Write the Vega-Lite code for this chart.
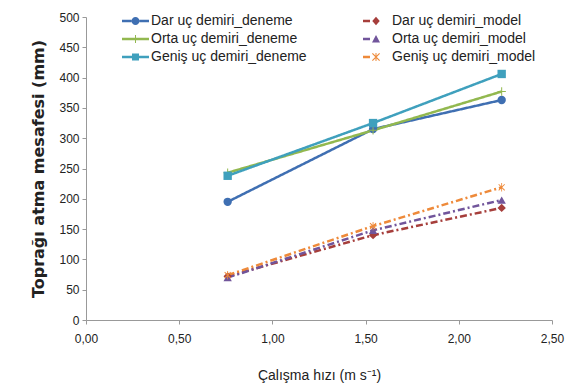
{
  "$schema": "https://vega.github.io/schema/vega-lite/v6.json",
  "width": 466,
  "height": 303,
  "autosize": "none",
  "padding": {"left": 86, "top": 17, "right": 26, "bottom": 66},
  "background": "white",
  "config": {
    "view": {"stroke": null},
    "font": "Liberation Sans Narrow, Liberation Sans, sans-serif",
    "locale": {"number": {"decimal": ",", "thousands": ".", "grouping": [3], "currency": ["", ""]}}
  },
  "data": {
    "values": [
      {"x": 0.76, "y": 195, "series": "Dar uç demiri_deneme"},
      {"x": 1.54, "y": 315, "series": "Dar uç demiri_deneme"},
      {"x": 2.23, "y": 363, "series": "Dar uç demiri_deneme"},
      {"x": 0.76, "y": 243, "series": "Orta uç demiri_deneme"},
      {"x": 1.54, "y": 313, "series": "Orta uç demiri_deneme"},
      {"x": 2.23, "y": 377, "series": "Orta uç demiri_deneme"},
      {"x": 0.76, "y": 238, "series": "Geniş uç demiri_deneme"},
      {"x": 1.54, "y": 325, "series": "Geniş uç demiri_deneme"},
      {"x": 2.23, "y": 406, "series": "Geniş uç demiri_deneme"},
      {"x": 0.76, "y": 72, "series": "Dar uç demiri_model"},
      {"x": 1.54, "y": 140, "series": "Dar uç demiri_model"},
      {"x": 2.23, "y": 185, "series": "Dar uç demiri_model"},
      {"x": 0.76, "y": 70, "series": "Orta uç demiri_model"},
      {"x": 1.54, "y": 148, "series": "Orta uç demiri_model"},
      {"x": 2.23, "y": 198, "series": "Orta uç demiri_model"},
      {"x": 0.76, "y": 74, "series": "Geniş uç demiri_model"},
      {"x": 1.54, "y": 155, "series": "Geniş uç demiri_model"},
      {"x": 2.23, "y": 219, "series": "Geniş uç demiri_model"}
    ]
  },
  "encoding": {
    "x": {
      "field": "x", "type": "quantitative",
      "scale": {"domain": [0, 2.5], "nice": false},
      "axis": {
        "values": [0, 0.5, 1, 1.5, 2, 2.5], "format": ".2f",
        "title": "Çalışma hızı (m s⁻¹)", "grid": false,
        "domainColor": "#999999", "tickColor": "#999999", "tickSize": 4,
        "labelColor": "#222222", "labelFontSize": 12, "labelFlush": false, "labelPadding": 9,
        "titleFontSize": 14, "titleFontWeight": "normal", "titleColor": "#222222", "titlePadding": 24
      }
    },
    "y": {
      "field": "y", "type": "quantitative",
      "scale": {"domain": [0, 500], "nice": false},
      "axis": {
        "values": [0, 50, 100, 150, 200, 250, 300, 350, 400, 450, 500],
        "title": "Toprağı atma mesafesi (mm)", "grid": false,
        "domainColor": "#999999", "tickColor": "#999999", "tickSize": 4,
        "labelColor": "#222222", "labelFontSize": 12, "labelPadding": 3,
        "titleFont": "DejaVu Sans", "titleFontSize": 16, "titleFontWeight": "bold", "titleColor": "#222222", "titlePadding": 12
      }
    }
  },
  "resolve": {"scale": {"color": "independent", "shape": "independent", "strokeDash": "independent"}},
  "layer": [
    {
      "mark": {"type": "line", "strokeWidth": 2.5},
      "encoding": {
        "color": {
          "field": "series", "type": "nominal",
          "scale": {
            "domain": ["Dar uç demiri_deneme", "Orta uç demiri_deneme", "Geniş uç demiri_deneme", "Dar uç demiri_model", "Orta uç demiri_model", "Geniş uç demiri_model"],
            "range": ["#3F6FB2", "#92B84F", "#3FA0BD", "#A63E3B", "#71559B", "#EE8A3A"]
          },
          "legend": null
        },
        "strokeDash": {
          "field": "series", "type": "nominal",
          "scale": {
            "domain": ["Dar uç demiri_deneme", "Orta uç demiri_deneme", "Geniş uç demiri_deneme", "Dar uç demiri_model", "Orta uç demiri_model", "Geniş uç demiri_model"],
            "range": [[1, 0], [1, 0], [1, 0], [7, 3, 2, 3], [7, 3, 2, 3], [7, 3, 2, 3]]
          },
          "legend": null
        }
      }
    },
    {
      "mark": {"type": "point", "filled": true, "opacity": 1, "size": 70},
      "encoding": {
        "color": {
          "field": "series", "type": "nominal",
          "scale": {
            "domain": ["Dar uç demiri_deneme", "Orta uç demiri_deneme", "Geniş uç demiri_deneme", "Dar uç demiri_model", "Orta uç demiri_model", "Geniş uç demiri_model"],
            "range": ["#3F6FB2", "#92B84F", "#3FA0BD", "#A63E3B", "#71559B", "#EE8A3A"]
          },
          "legend": null
        },
        "shape": {
          "field": "series", "type": "nominal",
          "scale": {
            "domain": ["Dar uç demiri_deneme", "Orta uç demiri_deneme", "Geniş uç demiri_deneme", "Dar uç demiri_model", "Orta uç demiri_model", "Geniş uç demiri_model"],
            "range": ["circle", "M-1,-0.12H1V0.12H-1Z M-0.12,-1H0.12V1H-0.12Z", "square", "diamond", "triangle-up", "M-0.1,-1H0.1V1H-0.1Z M-0.8,-0.64L-0.64,-0.8L0.8,0.64L0.64,0.8Z M0.64,-0.8L0.8,-0.64L-0.64,0.8L-0.8,0.64Z"]
          },
          "legend": null
        }
      }
    },
    {
      "mark": {"type": "point", "filled": true, "opacity": 0, "size": 1},
      "encoding": {
        "color": {
          "field": "series", "type": "nominal",
          "scale": {
            "domain": ["Dar uç demiri_deneme", "Orta uç demiri_deneme", "Geniş uç demiri_deneme", "Dar uç demiri_model", "Orta uç demiri_model", "Geniş uç demiri_model"],
            "range": ["#3F6FB2", "#92B84F", "#3FA0BD", "#A63E3B", "#71559B", "#EE8A3A"]
          },
          "legend": {
            "orient": "none", "legendX": 34, "legendY": -3, "columns": 2, "columnPadding": 54, "rowPadding": 4,
            "title": null, "labelFontSize": 14, "labelColor": "#222222", "labelOffset": 17,
            "symbolSize": 100, "symbolOpacity": 1, "symbolStrokeWidth": 0
          }
        },
        "shape": {
          "field": "series", "type": "nominal",
          "scale": {
            "domain": ["Dar uç demiri_deneme", "Orta uç demiri_deneme", "Geniş uç demiri_deneme", "Dar uç demiri_model", "Orta uç demiri_model", "Geniş uç demiri_model"],
            "range": [
              "M-1,-0.24H0.9V0.24H-1Z M2.5,-0.24H4.4V0.24H2.5Z M0.9,0A0.8,0.8 0 1 1 2.5,0A0.8,0.8 0 1 1 0.9,0Z",
              "M-1,-0.24H1.6V0.24H-1Z M1.8,-0.24H4.4V0.24H1.8Z M1.6,-0.8H1.8V0.8H1.6Z",
              "M-1,-0.24H1V0.24H-1Z M2.4,-0.24H4.4V0.24H2.4Z M1,-0.7H2.4V0.7H1Z",
              "M-1,-0.24H0.4V0.24H-1Z M1.6,-0.85L2.35,0L1.6,0.85L0.85,0Z",
              "M-1,-0.24H0.4V0.24H-1Z M1.6,-0.8L2.4,0.7H0.8Z",
              "M-1,-0.24H0.4V0.24H-1Z M1.5,-0.8H1.7V0.8H1.5Z M0.8,-0.64L0.96,-0.8L2.4,0.64L2.24,0.8Z M2.24,-0.8L2.4,-0.64L0.96,0.8L0.8,0.64Z"
            ]
          },
          "legend": {
            "orient": "none", "legendX": 34, "legendY": -3, "columns": 2, "columnPadding": 54, "rowPadding": 4,
            "title": null, "labelFontSize": 14, "labelColor": "#222222", "labelOffset": 17,
            "symbolSize": 100, "symbolOpacity": 1, "symbolStrokeWidth": 0
          }
        }
      }
    }
  ]
}
